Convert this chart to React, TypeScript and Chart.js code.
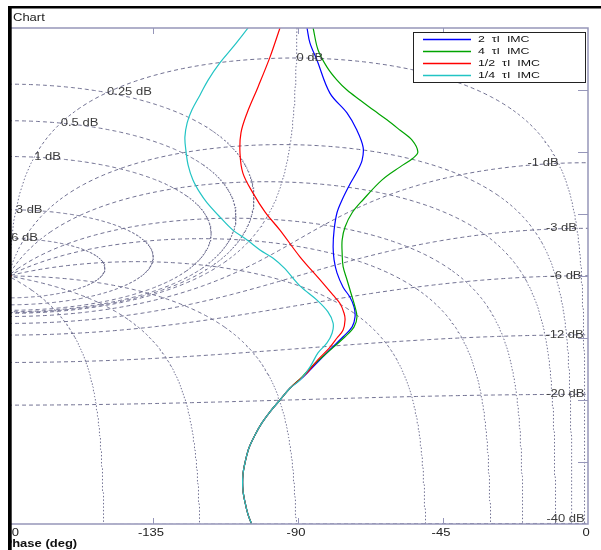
import React, { useEffect, useRef } from 'react';
import { Chart, registerables } from 'chart.js';

Chart.register(...registerables);

// ---------- axes ----------
const PHASE_MIN = -180;
const PHASE_MAX = 0;
const GAIN_MIN = -40;
const GAIN_MAX = 40;
const phaseTicks = [-180, -135, -90, -45, 0];
const gainTicks = [-30, -20, -10, 0, 10, 20, 30];
const xTitle = 'Phase (deg)';
const chartTitle = 'Chart';

// ---------- Nichols grid ----------
const mContoursDb = [6, 3, 1, 0.5, 0.25, 0, -1, -3, -6, -12, -20, -40];
const nContoursDeg = [-1, -5, -10, -20, -30, -50, -90, -120, -150];
const labelAnchorDeg = -1; // M labels sit where each M contour meets this N contour

// ---------- series ----------
const seriesLabels = ['2 τI IMC', '4 τI IMC', '1/2 τI IMC', '1/4 τI IMC'];
const seriesColors = ['#0000ff', '#00a400', '#ff0000', '#22c4c4'];

const bluePhase = [-87.2, -86.3, -84.1, -80.1, -74.8, -71.7, -69.8, -70.1, -71.7, -73.9, -76.3, -77.9, -78.8, -79.1, -78.8, -77.9, -76.0, -73.9, -72.6, -72.3, -73.2, -76.0, -80.1, -84.1, -88.4];
const blueGain = [40.0, 37.6, 34.8, 29.5, 26.3, 23.5, 20.8, 18.7, 16.8, 14.8, 12.3, 10.2, 7.4, 4.7, 2.6, 0.5, -1.8, -3.4, -5.0, -6.6, -8.2, -9.8, -11.9, -14.0, -16.3];

const greenPhase = [-85.3, -83.8, -81.0, -77.9, -74.8, -70.8, -66.7, -62.4, -58.3, -54.6, -52.8, -54.3, -58.3, -63.9, -69.8, -73.2, -75.4, -76.3, -76.3, -76.0, -74.8, -73.6, -72.3, -71.7, -72.6, -75.4, -81.0, -85.3, -88.8];
const greenGain = [40.0, 36.5, 33.7, 31.6, 30.0, 28.4, 26.8, 25.2, 23.5, 21.9, 20.0, 19.0, 17.6, 15.5, 12.3, 10.2, 7.9, 5.8, 3.7, 1.5, -0.6, -2.7, -5.0, -6.6, -8.2, -9.8, -12.4, -14.4, -16.3];

const redPhase = [-95.6, -98.7, -102.4, -105.8, -107.7, -108.0, -107.1, -104.0, -100.2, -95.6, -89.4, -83.2, -79.1, -77.0, -75.7, -75.4, -76.0, -77.9, -80.1, -83.8, -87.2];
const redGain = [40.0, 35.3, 30.5, 26.3, 23.1, 19.8, 16.6, 13.4, 10.3, 7.4, 3.1, -0.6, -3.1, -4.4, -6.0, -7.1, -8.7, -10.0, -11.5, -13.5, -15.6];

const cyanPhase = [-105.5, -110.2, -114.2, -117.9, -120.4, -122.9, -124.4, -125.1, -124.8, -124.1, -122.6, -120.4, -118.2, -114.2, -110.2, -105.8, -101.8, -97.8, -94.3, -89.4, -84.1, -80.7, -79.1, -79.4, -81.0, -83.8, -86.3, -89.4];
const cyanGain = [40.0, 36.9, 34.4, 31.6, 29.2, 26.8, 24.7, 22.4, 20.3, 17.9, 15.5, 13.4, 11.8, 9.5, 7.4, 5.8, 4.2, 2.9, 1.3, -1.6, -3.9, -5.8, -7.6, -9.2, -10.8, -12.4, -14.7, -16.8];

// common low-frequency tail shared by all four responses
const tailPhase = [-92.5, -95.6, -98.7, -101.2, -103.3, -105.2, -106.4, -107.1, -107.1, -106.4, -105.5, -104.3, -103.9];
const tailGain = [-18.1, -20.0, -21.9, -23.7, -25.6, -27.7, -30.0, -32.1, -34.5, -36.6, -38.5, -40.2, -41.5];

// ---------- helpers ----------
const D2R = Math.PI / 180;
const db = (r: number) => 20 * Math.log10(r);
type P = { x: number; y: number };

function mContour(dB: number): P[] {
  const pts: P[] = [];
  const M = Math.pow(10, dB / 20);
  const N = 240;
  if (dB === 0) {
    for (let k = 0; k < N; k++) {
      const p = -180 + 90 * Math.sin((k / N) * Math.PI / 2);
      const r = -1 / (2 * Math.cos(p * D2R));
      pts.push({ x: p, y: db(r) });
    }
    pts.push({ x: -90.05, y: db(-1 / (2 * Math.cos(-90.05 * D2R))) });
    return pts.filter((q) => q.y < 70);
  }
  if (M < 1) {
    for (let k = 0; k <= N; k++) {
      const p = -180 + (180 * k) / N;
      const c = Math.cos(p * D2R);
      const r = (M * M * c + M * Math.sqrt(M * M * c * c + 1 - M * M)) / (1 - M * M);
      pts.push({ x: p, y: db(r) });
    }
    return pts;
  }
  const dev = Math.asin(1 / M) / D2R;
  const up: P[] = [];
  const lo: P[] = [];
  for (let k = 0; k <= N; k++) {
    const p = -180 + dev * Math.sin((k / N) * Math.PI / 2);
    const c = Math.cos(p * D2R);
    const s = Math.sqrt(Math.max(0, M * M * c * c - (M * M - 1)));
    up.push({ x: p, y: db((M * M * c - M * s) / (1 - M * M)) });
    lo.push({ x: p, y: db((M * M * c + M * s) / (1 - M * M)) });
  }
  return up.concat(lo.reverse());
}

function nContour(phi: number): P[] {
  const pts: P[] = [];
  const D = phi + 180;
  const N = 300;
  for (let k = 1; k <= N; k++) {
    const d = D * Math.pow(k / N, 3);
    const p = phi - d;
    const r = Math.sin((p - phi) * D2R) / Math.sin(phi * D2R);
    if (r > 0) {
      const g = db(r);
      if (g > -70) pts.push({ x: p, y: g });
    }
  }
  return pts;
}

function labelAnchor(dB: number): P {
  const M = Math.pow(10, dB / 20);
  const a = labelAnchorDeg * D2R;
  const tr = M * Math.cos(a);
  const ti = M * Math.sin(a);
  const dr = 1 - tr;
  const di = -ti;
  const den = dr * dr + di * di;
  const lr = (tr * dr + ti * di) / den;
  const li = (ti * dr - tr * di) / den;
  let ph = Math.atan2(li, lr) / D2R;
  if (ph > 0) ph -= 360;
  return { x: ph, y: db(Math.hypot(lr, li)) };
}

const zip = (a: number[], b: number[]): P[] => a.map((v, i) => ({ x: v, y: b[i] }));

const SX = 1.3; // horizontal text stretch seen in the reference
function text(ctx: CanvasRenderingContext2D, s: string, x: number, y: number, align: string, font: string, color: string) {
  ctx.save();
  ctx.font = font;
  ctx.fillStyle = color;
  ctx.textBaseline = 'middle';
  ctx.textAlign = 'left';
  const w = ctx.measureText(s).width * SX;
  const left = align === 'left' ? x : align === 'right' ? x - w : x - w / 2;
  ctx.translate(left, y);
  ctx.scale(SX, 1);
  ctx.fillText(s, 0, 0);
  ctx.restore();
}

const GRID_COLOR = 'rgba(105,105,140,0.95)';
const FRAME_COLOR = 'rgb(150,150,185)';
const FONT = '10px "Liberation Sans", Arial, sans-serif';
const LEGEND_FONT = '9.5px "Liberation Sans", Arial, sans-serif';

const dashFor = (ctx: any) => {
  const dx = Math.abs(ctx.p1.x - ctx.p0.x);
  const dy = Math.abs(ctx.p1.y - ctx.p0.y);
  if (dy <= dx * 0.7) return [4, 3];
  if (dy <= dx * 1.8) return [3, 2.5];
  return [1.5, 2];
};

const decor = {
  id: 'decor',
  afterDatasetsDraw(chart: any) {
    const ctx = chart.ctx as CanvasRenderingContext2D;
    const xs = chart.scales.x;
    const ys = chart.scales.y;
    const ca = chart.chartArea;
    mContoursDb.forEach((v) => {
      const a = labelAnchor(v);
      const px = xs.getPixelForValue(a.x);
      let py = ys.getPixelForValue(a.y);
      py = Math.max(ca.top + 6, Math.min(ca.bottom - 5, py));
      text(ctx, `${v} dB`, px, py, v >= 0 ? 'left' : 'right', FONT, '#3c3c3c');
    });
  },
  afterDraw(chart: any) {
    const ctx = chart.ctx as CanvasRenderingContext2D;
    const xs = chart.scales.x;
    const ys = chart.scales.y;
    const ca = chart.chartArea;
    ctx.save();
    ctx.setLineDash([]);
    // frame
    ctx.strokeStyle = FRAME_COLOR;
    ctx.lineWidth = 1.5;
    ctx.beginPath();
    ctx.moveTo(ca.left, ca.top);
    ctx.lineTo(ca.right, ca.top);
    ctx.lineTo(ca.right, ca.bottom);
    ctx.lineTo(ca.left, ca.bottom);
    ctx.stroke();
    ctx.lineWidth = 1;
    ctx.beginPath();
    phaseTicks.forEach((t) => {
      if (t === PHASE_MIN || t === PHASE_MAX) return;
      const px = Math.round(xs.getPixelForValue(t)) + 0.5;
      ctx.moveTo(px, ca.top);
      ctx.lineTo(px, ca.top + 6);
      ctx.moveTo(px, ca.bottom);
      ctx.lineTo(px, ca.bottom - 6);
    });
    gainTicks.forEach((t) => {
      const py = Math.round(ys.getPixelForValue(t)) + 0.5;
      ctx.moveTo(ca.right, py);
      ctx.lineTo(ca.right - 10, py);
    });
    ctx.stroke();
    // tick labels
    phaseTicks.forEach((t) => {
      text(ctx, String(t), xs.getPixelForValue(t) - 2, ca.bottom + 9, 'center', FONT, '#222');
    });
    text(ctx, xTitle, 3.5, ca.bottom + 20, 'left', 'bold ' + FONT, '#111');

    // legend
    const series = chart.data.datasets.filter((d: any) => d.isSeries);
    const bw = 172;
    const bh = 50;
    const bx = Math.round(ca.right - 3 - bw);
    const by = Math.round(ca.top + 4);
    ctx.fillStyle = '#fff';
    ctx.fillRect(bx, by, bw, bh);
    ctx.strokeStyle = '#222';
    ctx.lineWidth = 1;
    ctx.strokeRect(bx + 0.5, by + 0.5, bw, bh);
    series.forEach((d: any, i: number) => {
      const ry = by + 7 + i * 12;
      const col = seriesColors[seriesLabels.indexOf(d.label)];
      ctx.strokeStyle = col;
      ctx.lineWidth = 1.3;
      ctx.beginPath();
      ctx.moveTo(bx + 10, ry + 0.5);
      ctx.lineTo(bx + 58, ry + 0.5);
      ctx.stroke();
      text(ctx, d.label.split(' ').join('  '), bx + 65, ry, 'left', LEGEND_FONT, '#111');
    });

    // window frame overlays
    ctx.fillStyle = '#fff';
    ctx.fillRect(0, 0, 8, chart.height);
    ctx.fillStyle = '#000';
    ctx.fillRect(8, 6, 3.7, chart.height - 6);
    ctx.fillRect(8, 6, chart.width - 8, 2.5);
    text(ctx, chartTitle, 13, 18, 'left', FONT, '#222');
    ctx.restore();
  },
};

export default function App() {
  const ref = useRef<HTMLCanvasElement>(null);
  useEffect(() => {
    const gridSets: any[] = [];
    mContoursDb.forEach((v) => {
      gridSets.push({
        label: `M ${v}`,
        data: mContour(v),
        borderColor: GRID_COLOR,
        borderWidth: 1,
        pointRadius: 0,
        tension: 0,
        order: 20,
        segment: { borderDash: dashFor },
      });
    });
    nContoursDeg.forEach((v) => {
      gridSets.push({
        label: `N ${v}`,
        data: nContour(v),
        borderColor: GRID_COLOR,
        borderWidth: 1,
        pointRadius: 0,
        tension: 0,
        order: 20,
        segment: { borderDash: dashFor },
      });
    });
    const seriesData = [
      zip(bluePhase, blueGain),
      zip(greenPhase, greenGain),
      zip(redPhase, redGain),
      zip(cyanPhase, cyanGain),
    ];
    const seriesSets = seriesData.map((d, i) => ({
      label: seriesLabels[i],
      isSeries: true,
      data: d.concat(zip(tailPhase, tailGain)),
      borderColor: seriesColors[i],
      backgroundColor: seriesColors[i],
      borderWidth: 1.2,
      pointRadius: 0,
      tension: 0.35,
      order: 4 - i,
    }));
    const critical = {
      label: 'critical',
      data: [{ x: PHASE_MIN, y: 0 }],
      showLine: false,
      pointStyle: 'cross',
      pointRadius: 4,
      borderColor: '#ff0000',
      borderWidth: 1,
      order: 10,
      clip: false as any,
    };
    const chart = new Chart(ref.current as HTMLCanvasElement, {
      type: 'line',
      data: { datasets: [...seriesSets, critical, ...gridSets] as any },
      options: {
        animation: false,
        responsive: false,
        maintainAspectRatio: false,
        layout: { padding: { left: 8, right: 13, top: 28, bottom: 0 } },
        plugins: { legend: { display: false }, tooltip: { enabled: false }, title: { display: false } },
        scales: {
          x: {
            type: 'linear',
            min: PHASE_MIN,
            max: PHASE_MAX,
            ticks: { display: false },
            grid: { display: false },
            border: { display: false },
            afterFit: (s: any) => { s.height = 26; },
          },
          y: {
            type: 'linear',
            min: GAIN_MIN,
            max: GAIN_MAX,
            ticks: { display: false },
            grid: { display: false },
            border: { display: false },
            afterFit: (s: any) => { s.width = 0; },
          },
        },
      },
      plugins: [decor],
    });
    return () => chart.destroy();
  }, []);
  return (
    <div style={{ position: 'fixed', left: 0, top: 0, width: 601, height: 550, background: '#fff' }}>
      <canvas ref={ref} width={601} height={550} style={{ display: 'block', width: 601, height: 550 }} />
    </div>
  );
}
